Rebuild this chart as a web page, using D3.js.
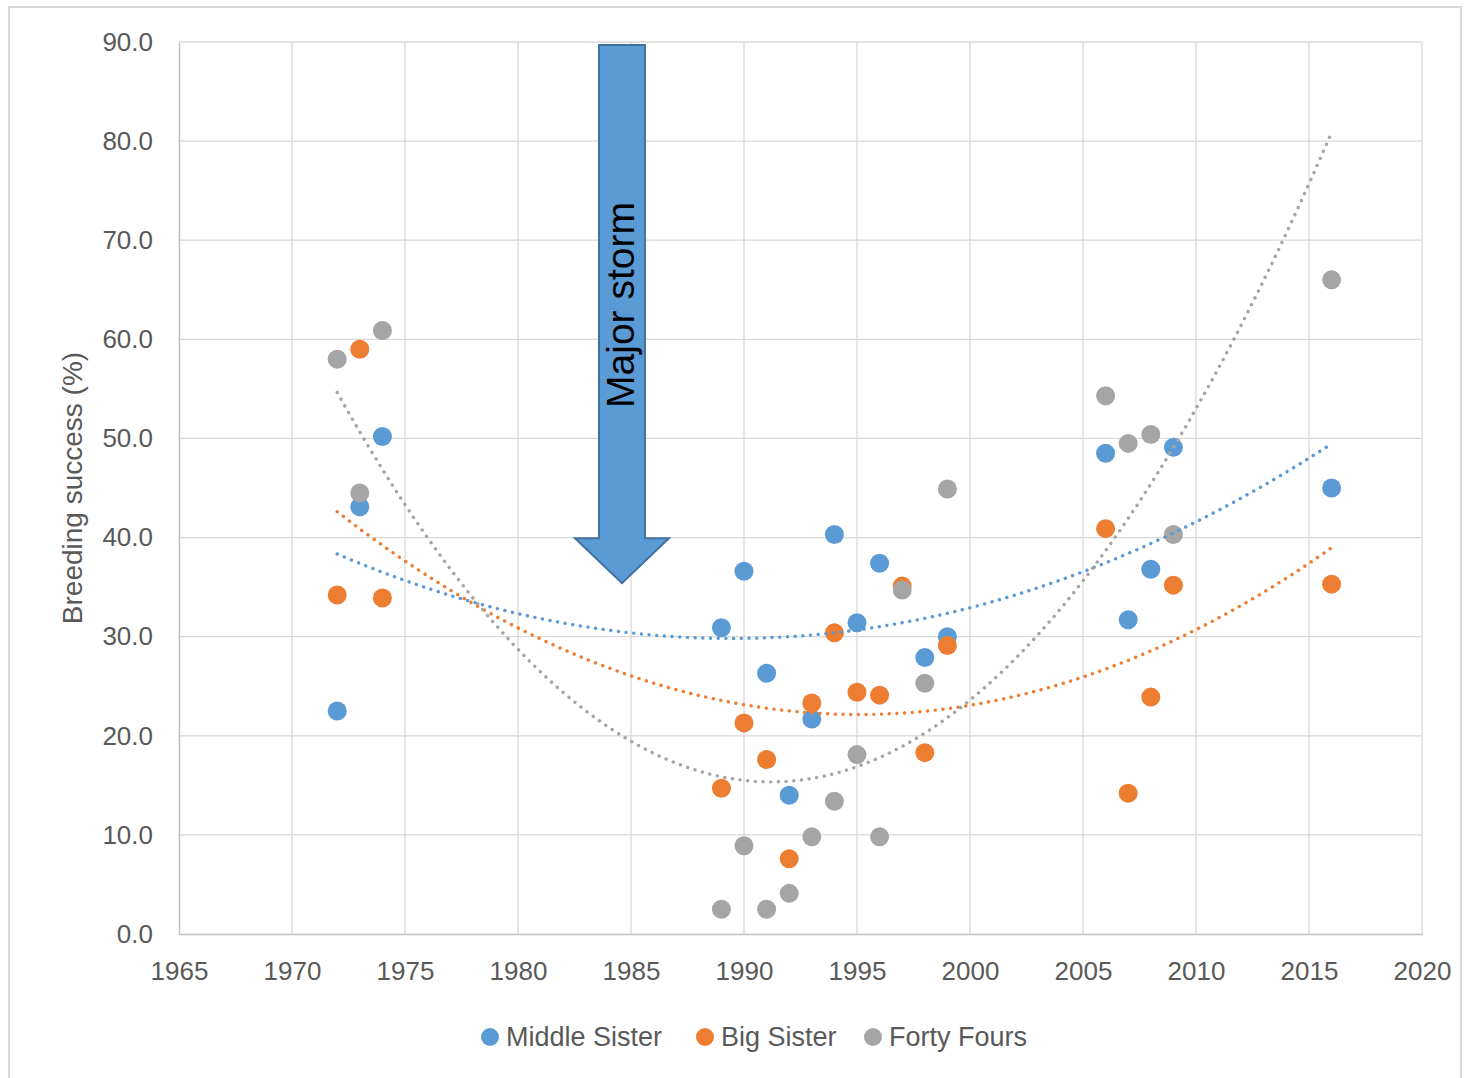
<!DOCTYPE html>
<html><head><meta charset="utf-8">
<script src="https://cdn.jsdelivr.net/npm/d3@7"></script>
<style>body{margin:0;background:#fff}svg{display:block}text{font-family:"Liberation Sans",Arial,sans-serif}</style>
</head><body><svg id="c" width="1467" height="1078"></svg>
<script>
const years = [1972,1973,1974,1989,1990,1991,1992,1993,1994,1995,1996,1997,1998,1999,2006,2007,2008,2009,2016];
const middleSister = [22.5,43.1,50.2,30.9,36.6,26.3,14.0,21.7,40.3,31.4,37.4,null,27.9,30.0,48.5,31.7,36.8,49.1,45.0];
const bigSister    = [34.2,59.0,33.9,14.7,21.3,17.6,7.6,23.3,30.4,24.4,24.1,35.1,18.3,29.1,40.9,14.2,23.9,35.2,35.3];
const fortyFours   = [58.0,44.5,60.9,2.5,8.9,2.5,4.1,9.8,13.4,18.1,9.8,34.7,25.3,44.9,54.3,49.5,50.4,40.3,66.0];
const seriesNames  = ["Middle Sister","Big Sister","Forty Fours"];
const seriesColors = ["#5B9BD5","#ED7D31","#A5A5A5"];
const xTicks = [1965,1970,1975,1980,1985,1990,1995,2000,2005,2010,2015,2020];
const yTicks = [0,10,20,30,40,50,60,70,80,90];
const stormYear = 1984.6, stormTop = 89.7, stormTip = 35.4, stormLabel = "Major storm";
const yTitle = "Breeding success (%)";

const svg = d3.select("#c");
const x = d3.scaleLinear().domain([1965,2020]).range([179,1422]);
const y = d3.scaleLinear().domain([0,90]).range([934,42]);

// outer frame
svg.append("rect").attr("x",9).attr("y",7).attr("width",1452).attr("height",1090)
  .attr("fill","none").attr("stroke","#d9d9d9").attr("stroke-width",2);

// gridlines
svg.append("g").selectAll("line").data(yTicks.slice(1)).join("line")
  .attr("x1",x(1965)).attr("x2",x(2020)).attr("y1",d=>y(d)).attr("y2",d=>y(d))
  .attr("stroke","#d9d9d9").attr("stroke-width",1.3);
svg.append("g").selectAll("line").data(xTicks.slice(1)).join("line")
  .attr("y1",y(0)).attr("y2",y(90)).attr("x1",d=>x(d)).attr("x2",d=>x(d))
  .attr("stroke","#d9d9d9").attr("stroke-width",1.3);

// axes
const yAxis = svg.append("g").attr("transform",`translate(${x(1965)},0)`)
  .call(d3.axisLeft(y).tickValues(yTicks).tickFormat(d3.format(".1f")).tickSize(0).tickPadding(26));
const xAxis = svg.append("g").attr("transform",`translate(0,${y(0)})`)
  .call(d3.axisBottom(x).tickValues(xTicks).tickFormat(d3.format("d")).tickSize(0).tickPadding(28));
[yAxis,xAxis].forEach(a=>{
  a.select(".domain").attr("stroke","#bfbfbf").attr("stroke-width",1.5);
  a.selectAll("text").attr("font-size",26).attr("fill","#595959").attr("font-family","Liberation Sans, Arial, sans-serif");
});
xAxis.selectAll("text").attr("dy","0.7em");

svg.append("text").attr("transform",`translate(82,488) rotate(-90)`)
  .attr("text-anchor","middle").attr("font-size",28).attr("fill","#595959").text(yTitle);

// polynomial (order 2) trendline fit
function polyFit(xs, ys){
  const pts = xs.map((v,i)=>[v-1990, ys[i]]).filter(p=>p[1]!=null);
  let S=[0,0,0,0,0], T=[0,0,0];
  pts.forEach(([a,b])=>{ for(let k=0;k<5;k++) S[k]+=Math.pow(a,k); for(let k=0;k<3;k++) T[k]+=b*Math.pow(a,k); });
  const M=[[S[0],S[1],S[2],T[0]],[S[1],S[2],S[3],T[1]],[S[2],S[3],S[4],T[2]]];
  for(let i=0;i<3;i++){ for(let j=i+1;j<3;j++){ const f=M[j][i]/M[i][i]; for(let k=i;k<4;k++) M[j][k]-=f*M[i][k]; } }
  const c=[0,0,0];
  for(let i=2;i>=0;i--){ let s=M[i][3]; for(let k=i+1;k<3;k++) s-=M[i][k]*c[k]; c[i]=s/M[i][i]; }
  return t=>c[0]+c[1]*(t-1990)+c[2]*(t-1990)*(t-1990);
}
const allSeries = [middleSister,bigSister,fortyFours];
const line = d3.line().x(d=>x(d[0])).y(d=>y(d[1])).curve(d3.curveLinear);
const xMin = d3.min(years), xMax = d3.max(years);
const trendX = d3.range(xMin, xMax+0.001, 0.25);

// points
allSeries.forEach((s,i)=>{
  svg.append("g").selectAll("circle").data(years.map((yr,j)=>[yr,s[j]]).filter(d=>d[1]!=null)).join("circle")
    .attr("cx",d=>x(d[0])).attr("cy",d=>y(d[1])).attr("r",9.5).attr("fill",seriesColors[i]);
});
allSeries.forEach((s,i)=>{
  const f = polyFit(years,s);
  svg.append("path").datum(trendX.map(t=>[t,f(t)])).attr("d",line)
    .attr("fill","none").attr("stroke",seriesColors[i]).attr("stroke-width",3.4)
    .attr("stroke-dasharray","0.1 7.6").attr("stroke-linecap","round");
});

// storm arrow
const ax = x(stormYear), shaftW = 23, headW = 47, headH = 45;
const yTop = y(stormTop), yTip = y(stormTip), yHead = yTip - headH;
svg.append("path")
  .attr("d",`M${ax-shaftW},${yTop}L${ax+shaftW},${yTop}L${ax+shaftW},${yHead}L${ax+headW},${yHead}L${ax},${yTip}L${ax-headW},${yHead}L${ax-shaftW},${yHead}Z`)
  .attr("fill","#5B9BD5").attr("stroke","#41719C").attr("stroke-width",2);
svg.append("text").attr("transform",`translate(${ax+12},305) rotate(-90)`)
  .attr("text-anchor","middle").attr("font-size",39).attr("fill","#000").text(stormLabel);

// legend
const legX = [490,705,873];
const lg = svg.append("g");
seriesNames.forEach((n,i)=>{
  lg.append("circle").attr("cx",legX[i]).attr("cy",1037).attr("r",9).attr("fill",seriesColors[i]);
  lg.append("text").attr("x",legX[i]+16).attr("y",1037).attr("dy","0.35em").attr("font-size",27).attr("fill","#595959").text(n);
});
</script></body></html>
